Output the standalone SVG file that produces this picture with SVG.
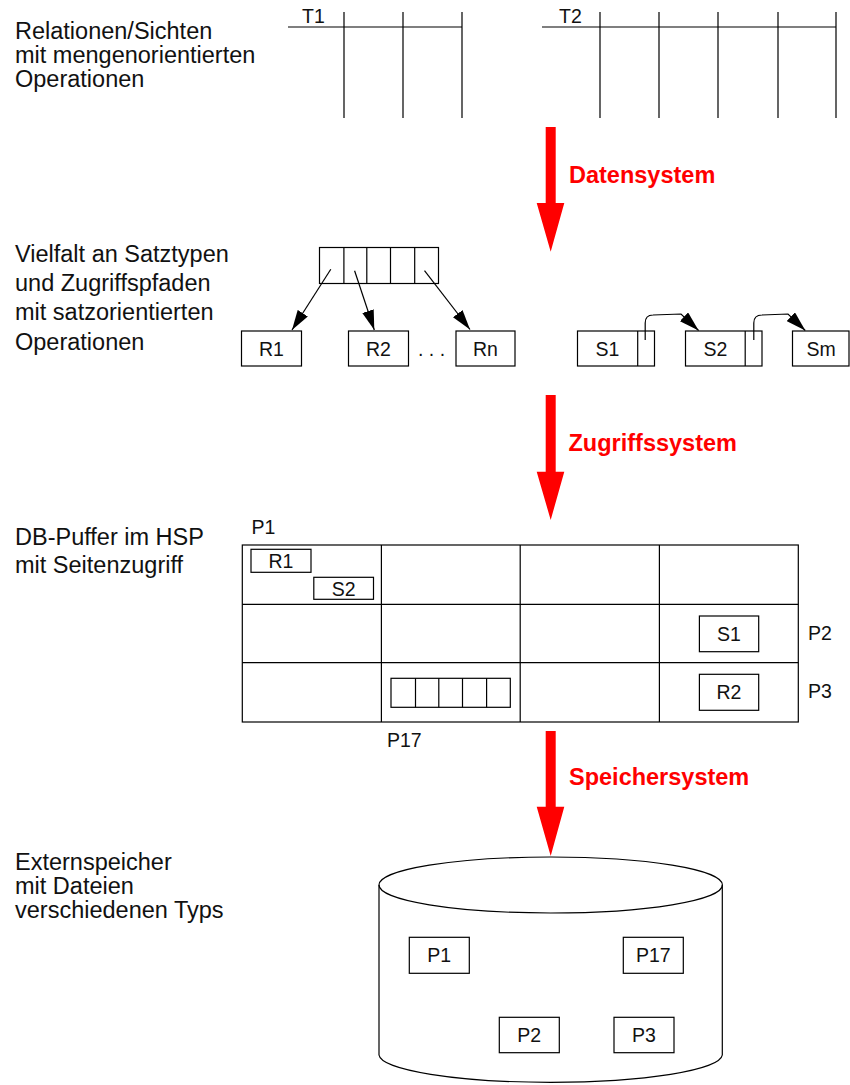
<svg xmlns="http://www.w3.org/2000/svg" width="850" height="1085" viewBox="0 0 850 1085">
<style>
text{font-family:"Liberation Sans",Arial,sans-serif;fill:#111}
.big{font-size:23.5px}
.sm{font-size:19.5px}
.red{font-size:23.5px;font-weight:bold;fill:#ff0000}
.ln{stroke:#000;stroke-width:1.2;fill:none}
.box{stroke:#000;stroke-width:1.2;fill:#fff}
.mid{text-anchor:middle}
</style>
<defs>
<marker id="ah" viewBox="0 0 20 12" refX="20" refY="6" markerWidth="20" markerHeight="12" markerUnits="userSpaceOnUse" orient="auto">
<path d="M0,0 L20,6 L0,12 z" fill="#000"/>
</marker>
</defs>
<rect width="850" height="1085" fill="#fff"/>

<g id="labels-left">
<text class="big" x="15" y="39">Relationen/Sichten</text>
<text class="big" x="15" y="63">mit mengenorientierten</text>
<text class="big" x="15" y="87">Operationen</text>
<text class="big" x="15" y="262">Vielfalt an Satztypen</text>
<text class="big" x="15" y="291">und Zugriffspfaden</text>
<text class="big" x="15" y="320">mit satzorientierten</text>
<text class="big" x="15" y="350">Operationen</text>
<text class="big" x="15" y="545">DB-Puffer im HSP</text>
<text class="big" x="15" y="573">mit Seitenzugriff</text>
<text class="big" x="15" y="870">Externspeicher</text>
<text class="big" x="15" y="894">mit Dateien</text>
<text class="big" x="15" y="918">verschiedenen Typs</text>
</g>

<g id="T1">
<path class="ln" d="M288,27 H462 M344,12 V118 M403,12 V118 M462,12 V118"/>
<text class="sm" x="302" y="23">T1</text>
</g>
<g id="T2">
<path class="ln" d="M542,27 H836 M600,12 V118 M659,12 V118 M718,12 V118 M778,12 V118 M836,12 V118"/>
<text class="sm" x="559" y="23">T2</text>
</g>

<g id="arrow-datensystem">
<path d="M545.7,127 H555.7 V203 H564.3 L550.7,251.7 L536.7,203 H545.7 Z" fill="#ff0000"/>
<text class="red" x="569" y="183">Datensystem</text>
</g>

<g id="index1">
<rect class="box" x="319.5" y="247.5" width="119" height="36"/>
<path class="ln" d="M343.9,247.5 V283.5 M366.8,247.5 V283.5 M390.5,247.5 V283.5 M414.7,247.5 V283.5"/>
</g>
<g id="R1"><rect class="box" x="241.5" y="331" width="60" height="35"/><text class="sm mid" x="271.5" y="355.5">R1</text></g>
<g id="R2"><rect class="box" x="348.5" y="331" width="60" height="35"/><text class="sm mid" x="378.5" y="355.5">R2</text></g>
<text class="sm" x="418" y="356" id="dots">. . .</text>
<g id="Rn"><rect class="box" x="456" y="331" width="59" height="35"/><text class="sm mid" x="485.5" y="355.5">Rn</text></g>
<g id="S1"><rect class="box" x="577.5" y="331" width="77" height="35"/><path class="ln" d="M637.7,331 V366"/><text class="sm mid" x="607.5" y="355.5">S1</text></g>
<g id="S2"><rect class="box" x="685.5" y="331" width="76.5" height="35"/><path class="ln" d="M745.2,331 V366"/><text class="sm mid" x="715.5" y="355.5">S2</text></g>
<g id="Sm"><rect class="box" x="792.5" y="331" width="56.5" height="35"/><text class="sm mid" x="821" y="355.5">Sm</text></g>

<g id="connectors">
<path class="ln" d="M330.8,269.3 L292,330" marker-end="url(#ah)"/>
<path class="ln" d="M354.6,270.7 L374.3,330" marker-end="url(#ah)"/>
<path class="ln" d="M424.5,270.7 L470,329.5" marker-end="url(#ah)"/>
<path class="ln" d="M645.2,340 V323 Q645.2,315 653,315 L681,314 L698.6,330.5" marker-end="url(#ah)"/>
<path class="ln" d="M753.8,340 V323 Q753.8,315 762,315 L788,314 L805.3,330.5" marker-end="url(#ah)"/>
</g>

<g id="arrow-zugriffssystem">
<path d="M545.7,395 H555.7 V471.7 H564.3 L550.7,520 L536.7,471.7 H545.7 Z" fill="#ff0000"/>
<text class="red" x="568.5" y="451">Zugriffssystem</text>
</g>

<g id="buffer">
<rect class="ln" x="242.3" y="545" width="556" height="177"/>
<path class="ln" d="M381.4,545 V722 M520.2,545 V722 M659.4,545 V722 M242.3,604.3 H798.3 M242.3,662.7 H798.3"/>
<text class="sm" x="251.5" y="534">P1</text>
<text class="sm" x="808" y="640">P2</text>
<text class="sm" x="808" y="698">P3</text>
<text class="sm" x="387" y="747">P17</text>
<rect class="box" x="251" y="549.3" width="60" height="23"/><text class="sm mid" x="281" y="568">R1</text>
<rect class="box" x="313.8" y="577.3" width="59.7" height="22"/><text class="sm mid" x="343.6" y="595.5">S2</text>
<rect class="box" x="699.4" y="616" width="59.3" height="35.7"/><text class="sm mid" x="729" y="640.5">S1</text>
<rect class="box" x="699.4" y="674.3" width="59.3" height="36"/><text class="sm mid" x="729" y="699">R2</text>
<rect class="box" x="391" y="678.3" width="119.3" height="29"/>
<path class="ln" d="M415.5,678.3 V707.3 M438.8,678.3 V707.3 M462.5,678.3 V707.3 M486.6,678.3 V707.3"/>
</g>

<g id="arrow-speichersystem">
<path d="M545.7,731 H555.7 V806.7 H564.3 L550.7,856 L536.7,806.7 H545.7 Z" fill="#ff0000"/>
<text class="red" x="569" y="784.5">Speichersystem</text>
</g>

<g id="disk">
<path class="ln" d="M379,885 V1055 A171.7,28 0 0 0 722.3,1055 V885"/>
<ellipse class="ln" cx="550.7" cy="885" rx="171.7" ry="28"/>
<rect class="box" x="409.3" y="937.3" width="60" height="36"/><text class="sm mid" x="439.3" y="962">P1</text>
<rect class="box" x="623.3" y="937.3" width="60" height="36"/><text class="sm mid" x="653.3" y="962">P17</text>
<rect class="box" x="499.3" y="1017.3" width="60" height="35.4"/><text class="sm mid" x="529.3" y="1042">P2</text>
<rect class="box" x="614" y="1017.3" width="60" height="35.4"/><text class="sm mid" x="644" y="1042">P3</text>
</g>
</svg>
